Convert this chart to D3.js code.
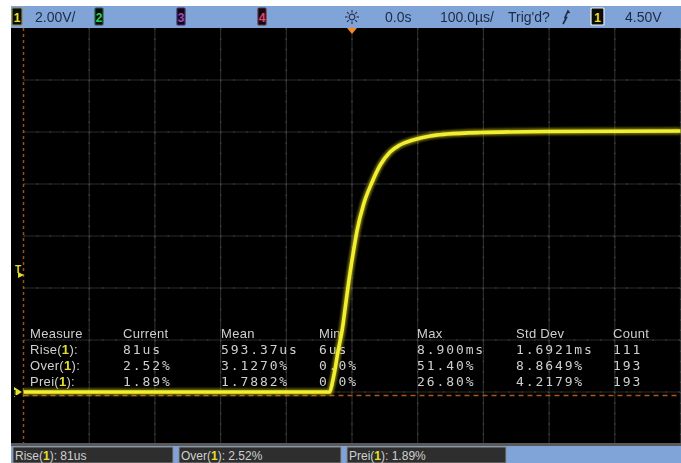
<!DOCTYPE html>
<html>
<head>
<meta charset="utf-8">
<script src="https://cdn.jsdelivr.net/npm/d3@7"></script>
<style>
  html, body { margin: 0; padding: 0; background: #ffffff; }
  svg { display: block; }
</style>
</head>
<body>
<svg id="scope" width="681" height="463"></svg>
<script>
// Channel 1 step response: time in microseconds (0 = trigger), level in volts
const traceTime = [-500, -34, -30, -26, -21, -15, -10, -4.6, 1.5, 7.6, 18, 30, 43, 58, 73, 93, 119, 145, 195, 300, 500];
const traceVolts = [0, 0, 0.35, 0.85, 1.6, 2.38, 3.3, 4.31, 5.3, 6.2, 7.25, 8.04, 8.73, 9.23, 9.5, 9.69, 9.85, 9.92, 9.98, 10.02, 10.04];

// Measurement table
const measureHeaders = ["Measure", "Current", "Mean", "Min", "Max", "Std Dev", "Count"];
const measureNames = ["Rise", "Over", "Prei"];
const measureCurrent = ["81us", "2.52%", "1.89%"];
const measureMean = ["593.37us", "3.1270%", "1.7882%"];
const measureMin = ["6us", "0.0%", "0.0%"];
const measureMax = ["8.900ms", "51.40%", "26.80%"];
const measureStdDev = ["1.6921ms", "8.8649%", "4.2179%"];
const measureCount = ["111", "193", "193"];

// Status bar readouts
const voltsPerDiv = "2.00V/";
const timeOffset = "0.0s";
const timePerDiv = "100.0µs/";
const trigState = "Trig'd?";
const trigLevel = "4.50V";
const groundLevelV = 0;
const triggerLevelV = 4.5;

// Screen geometry (10 x 8 divisions)
const xTicks = d3.range(-500, 501, 100);
const yTicks = d3.range(-2, 15, 2);

const svg = d3.select("#scope");
const plot = { left: 23.5, right: 680.5, top: 28, bottom: 444 };

const x = d3.scaleLinear().domain([-500, 500]).range([plot.left, plot.right]);
const y = d3.scaleLinear().domain([-2, 14]).range([plot.bottom, plot.top]);

// Black display area
svg.append("rect").attr("x", 11).attr("y", 6).attr("width", 670).attr("height", 457).attr("fill", "#000");

const defs = svg.append("defs");
const glow = defs.append("filter").attr("id", "glow").attr("x", "-5%").attr("y", "-5%").attr("width", "110%").attr("height", "110%");
glow.append("feGaussianBlur").attr("stdDeviation", 1.3);
const soft = defs.append("filter").attr("id", "soft");
soft.append("feGaussianBlur").attr("stdDeviation", 0.4);

// Graticule
const grid = svg.append("g").attr("class", "grid");
grid.selectAll("line.v").data(xTicks.slice(1)).join("line")
  .attr("x1", d => x(d)).attr("x2", d => x(d))
  .attr("y1", plot.top).attr("y2", plot.bottom)
  .attr("stroke", "#2b2b2b").attr("stroke-width", 1.2);
grid.selectAll("line.h").data(yTicks.slice(1, -1)).join("line")
  .attr("x1", plot.left).attr("x2", plot.right)
  .attr("y1", d => y(d)).attr("y2", d => y(d))
  .attr("stroke", "#2b2b2b").attr("stroke-width", 1.2);
// minor dots along grid lines
grid.selectAll("line.vd").data(xTicks.slice(1)).join("line")
  .attr("x1", d => x(d)).attr("x2", d => x(d))
  .attr("y1", plot.top).attr("y2", plot.bottom)
  .attr("stroke", "#474747").attr("stroke-width", 1.2)
  .attr("stroke-dasharray", "1.5,8.9");
grid.selectAll("line.hd").data(yTicks.slice(1, -1)).join("line")
  .attr("x1", plot.left).attr("x2", plot.right)
  .attr("y1", d => y(d)).attr("y2", d => y(d))
  .attr("stroke", "#474747").attr("stroke-width", 1.2)
  .attr("stroke-dasharray", "1.5,11.6");

// Orange reference markers
svg.append("line")
  .attr("x1", plot.left).attr("x2", plot.left)
  .attr("y1", plot.top).attr("y2", plot.bottom)
  .attr("stroke", "#9a4e1c").attr("stroke-width", 1.5).attr("stroke-dasharray", "3,3");
svg.append("line")
  .attr("x1", plot.left).attr("x2", plot.right)
  .attr("y1", y(groundLevelV) + 3.5).attr("y2", y(groundLevelV) + 3.5)
  .attr("stroke", "#b0561c").attr("stroke-width", 1.5).attr("stroke-dasharray", "5,4");

// Measurement readout
const table = svg.append("g").attr("fill", "#cfcfcf").attr("filter", "url(#soft)");
const colX = [30, 123, 221, 319, 417, 516, 613];
const rowY = [338, 354, 370, 386];
table.selectAll("text.head").data(measureHeaders).join("text")
  .attr("x", (d, i) => colX[i]).attr("y", rowY[0])
  .attr("font-family", "Liberation Sans, Arial, sans-serif").attr("font-size", 13)
  .attr("letter-spacing", 0.3)
  .text(d => d);
const rowLabels = table.selectAll("text.row").data(measureNames).join("text")
  .attr("x", colX[0]).attr("y", (d, i) => rowY[i + 1])
  .attr("font-family", "Liberation Sans, Arial, sans-serif").attr("font-size", 13)
  .attr("letter-spacing", 0.3);
rowLabels.append("tspan").text(d => d + "(");
rowLabels.append("tspan").attr("fill", "#e4df2a").attr("font-weight", "bold").text("1");
rowLabels.append("tspan").text("):");
const cols = [measureCurrent, measureMean, measureMin, measureMax, measureStdDev, measureCount];
cols.forEach((col, ci) => {
  table.selectAll("text.c" + ci).data(col).join("text")
    .attr("x", colX[ci + 1]).attr("y", (d, i) => rowY[i + 1])
    .attr("font-family", "DejaVu Sans Mono, monospace").attr("font-size", 13)
    .attr("letter-spacing", 1.9)
    .text(d => d);
});

// Channel 1 waveform
const line = d3.line().x((d, i) => x(traceTime[i])).y(d => y(d)).curve(d3.curveMonotoneX);
svg.append("path").datum(traceVolts).attr("d", line)
  .attr("fill", "none").attr("stroke", "#c8c418").attr("stroke-width", 7).attr("opacity", 0.55)
  .attr("filter", "url(#glow)");
svg.append("path").datum(traceVolts).attr("d", line)
  .attr("fill", "none").attr("stroke", "#f2ee30").attr("stroke-width", 3.6)
  .attr("stroke-linejoin", "round");

// Ground marker and trigger level marker
const gy = y(groundLevelV);
svg.append("path").attr("d", `M14,${gy - 5} L14,${gy + 5} L22,${gy} Z`).attr("fill", "#e4df2a");
svg.append("text").attr("x", 12).attr("y", gy + 4).attr("font-family", "Liberation Sans, sans-serif")
  .attr("font-size", 9).attr("font-weight", "bold").attr("fill", "#000").text("1");
const ty = y(triggerLevelV);
svg.append("text").attr("x", 15).attr("y", ty - 2).attr("font-family", "Liberation Sans, sans-serif")
  .attr("font-size", 10).attr("font-weight", "bold").attr("fill", "#e4df2a").text("T");
svg.append("path").attr("d", `M18,${ty - 3} L24,${ty} L18,${ty + 3} Z`).attr("fill", "#e4df2a");

// Top status bar
const bar = svg.append("g");
bar.append("rect").attr("x", 11).attr("y", 6).attr("width", 670).attr("height", 22).attr("fill", "#80a4d8");
const chBox = (bx, w, label, color, border) => {
  bar.append("rect").attr("x", bx).attr("y", 8).attr("width", w).attr("height", 17)
    .attr("fill", "#0c0c0c").attr("stroke", border).attr("stroke-width", 1.2).attr("rx", 1);
  bar.append("text").attr("x", bx + w / 2).attr("y", 21.5).attr("text-anchor", "middle")
    .attr("font-family", "Liberation Sans, sans-serif").attr("font-weight", "bold").attr("font-size", 12)
    .attr("fill", color).text(label);
};
chBox(12, 10, "1", "#e6e02a", "#8b8a3a");
chBox(95, 8, "2", "#2ad05a", "#2a5a3a");
chBox(177, 8, "3", "#a04ad0", "#4a2a6a");
chBox(258, 8, "4", "#e8407a", "#6a2a3a");
chBox(591, 13, "1", "#e6e02a", "#f0f0f0");
const barText = (tx, s) => bar.append("text").attr("x", tx).attr("y", 22)
  .attr("font-family", "Liberation Sans, Arial, sans-serif").attr("font-size", 14)
  .attr("fill", "#1c2a44").attr("filter", "url(#soft)").text(s);
barText(35, voltsPerDiv);
barText(385, timeOffset);
barText(440, timePerDiv);
barText(508, trigState);
barText(625, trigLevel);
// acquisition sun icon
const sun = bar.append("g").attr("transform", "translate(352,17)").attr("stroke", "#2a3550").attr("stroke-width", 1.2);
sun.append("circle").attr("r", 2.8).attr("fill", "none");
d3.range(8).forEach(k => {
  const a = k * Math.PI / 4;
  sun.append("line").attr("x1", Math.cos(a) * 4.5).attr("y1", Math.sin(a) * 4.5)
    .attr("x2", Math.cos(a) * 7).attr("y2", Math.sin(a) * 7);
});
// rising edge trigger symbol
bar.append("path").attr("d", "M563,24 L566.5,17.5 L565,17.5 L568,11 M567,13.5 L568,11 L569.5,13")
  .attr("fill", "none").attr("stroke", "#1c2a44").attr("stroke-width", 1.6);
// trigger position marker
svg.append("path").attr("d", `M${x(0) - 5},28 L${x(0) + 5},28 L${x(0)},34 Z`).attr("fill", "#f08a20");

// Bottom quick-measure bar
svg.append("rect").attr("x", 11).attr("y", 443).attr("width", 670).attr("height", 3).attr("fill", "#5a5a5a");
svg.append("rect").attr("x", 11).attr("y", 446).attr("width", 670).attr("height", 17).attr("fill", "#80a4d8");
const quick = [
  { x0: 13, x1: 173, name: "Rise", val: measureCurrent[0] },
  { x0: 179, x1: 341, name: "Over", val: measureCurrent[1] },
  { x0: 347, x1: 506, name: "Prei", val: measureCurrent[2] }
];
quick.forEach(q => {
  svg.append("rect").attr("x", q.x0).attr("y", 447).attr("width", q.x1 - q.x0).attr("height", 16)
    .attr("fill", "#2e2e2e").attr("stroke", "#8a8a8a").attr("stroke-width", 1);
  const t = svg.append("text").attr("x", q.x0 + 2).attr("y", 460)
    .attr("font-family", "Liberation Sans, Arial, sans-serif").attr("font-size", 12)
    .attr("fill", "#d0d0d0");
  t.append("tspan").text(q.name + "(");
  t.append("tspan").attr("fill", "#e6e02a").attr("font-weight", "bold").text("1");
  t.append("tspan").text("): " + q.val);
});

// White surround
svg.append("rect").attr("x", 0).attr("y", 0).attr("width", 11).attr("height", 463).attr("fill", "#fff");
svg.append("rect").attr("x", 0).attr("y", 0).attr("width", 681).attr("height", 6).attr("fill", "#fff");
</script>
</body>
</html>
